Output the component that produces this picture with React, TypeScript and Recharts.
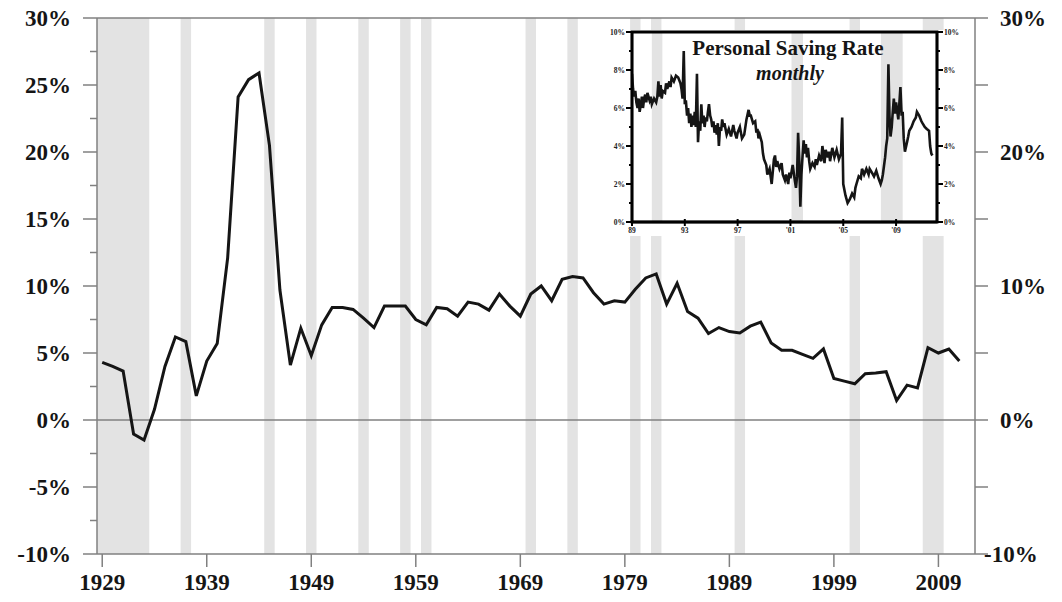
import React from "react";
import { LineChart, Line, XAxis, YAxis, ReferenceArea, ReferenceLine } from "recharts";

// annual personal saving rate, % of disposable income
const years = [
  1929, 1930, 1931, 1932, 1933, 1934, 1935, 1936, 1937, 1938, 1939, 1940, 1941, 1942, 1943, 1944, 1945, 1946, 1947, 1948,
  1949, 1950, 1951, 1952, 1953, 1954, 1955, 1956, 1957, 1958, 1959, 1960, 1961, 1962, 1963, 1964, 1965, 1966, 1967, 1968,
  1969, 1970, 1971, 1972, 1973, 1974, 1975, 1976, 1977, 1978, 1979, 1980, 1981, 1982, 1983, 1984, 1985, 1986, 1987, 1988,
  1989, 1990, 1991, 1992, 1993, 1994, 1995, 1996, 1997, 1998, 1999, 2000, 2001, 2002, 2003, 2004, 2005, 2006, 2007, 2008,
  2009, 2010, 2011,
];
const rates = [
  4.3, 4.0, 3.65, -1.05, -1.5, 0.8, 4.0, 6.2, 5.85, 1.8, 4.4, 5.7, 12.1, 24.1, 25.4, 25.9, 20.5, 9.7, 4.1, 6.85,
  4.8, 7.1, 8.4, 8.4, 8.25, 7.6, 6.9, 8.5, 8.5, 8.5, 7.5, 7.1, 8.4, 8.3, 7.75, 8.8, 8.65, 8.2, 9.4, 8.5,
  7.75, 9.4, 10.0, 8.9, 10.5, 10.7, 10.6, 9.5, 8.65, 8.9, 8.8, 9.75, 10.6, 10.9, 8.65, 10.2, 8.1, 7.6, 6.45, 6.9,
  6.6, 6.5, 7.0, 7.3, 5.75, 5.2, 5.2, 4.9, 4.6, 5.3, 3.1, 2.9, 2.7, 3.45, 3.5, 3.6, 1.45, 2.6, 2.4, 5.4,
  5.0, 5.3, 4.4,
];

// recessions (first year, last year) shaded on the annual chart
const recessionStart = [1929, 1937, 1945, 1949, 1954, 1958, 1960, 1970, 1974, 1980, 1982, 1990, 2001, 2008];
const recessionEnd = [1933, 1937, 1945, 1949, 1954, 1958, 1960, 1970, 1974, 1980, 1982, 1990, 2001, 2009];

const yearTicks = [1929, 1939, 1949, 1959, 1969, 1979, 1989, 1999, 2009];
const leftTicks = [-10, -7.5, -5, -2.5, 0, 2.5, 5, 7.5, 10, 12.5, 15, 17.5, 20, 22.5, 25, 27.5, 30];
const rightTicks = [-10, -5, 0, 5, 10, 15, 20, 25, 30];

// inset: monthly rate, x as decimal year
const monthX = [
  1989.0, 1989.08, 1989.17, 1989.25, 1989.33, 1989.42, 1989.5, 1989.58, 1989.67, 1989.75, 1989.83, 1989.92,
  1990.0, 1990.08, 1990.17, 1990.25, 1990.33, 1990.42, 1990.5, 1990.67, 1990.83, 1990.92,
  1991.0, 1991.08, 1991.17, 1991.25, 1991.33, 1991.5, 1991.58, 1991.67, 1991.83, 1991.92,
  1992.0, 1992.17, 1992.33, 1992.5, 1992.67, 1992.75, 1992.83, 1992.92,
  1993.0, 1993.08, 1993.17, 1993.25, 1993.33, 1993.42, 1993.5, 1993.58, 1993.67, 1993.75, 1993.83, 1993.92,
  1994.0, 1994.08, 1994.17, 1994.25, 1994.33, 1994.42, 1994.5, 1994.58, 1994.67, 1994.75, 1994.83, 1994.92,
  1995.0, 1995.08, 1995.17, 1995.25, 1995.33, 1995.42, 1995.5, 1995.58, 1995.67, 1995.75, 1995.83, 1995.92,
  1996.0, 1996.17, 1996.33, 1996.5, 1996.67, 1996.75, 1996.92,
  1997.0, 1997.17, 1997.33, 1997.5, 1997.67, 1997.83, 1997.92,
  1998.0, 1998.17, 1998.33, 1998.42, 1998.5, 1998.58, 1998.67, 1998.83, 1998.92,
  1999.0, 1999.17, 1999.25, 1999.42, 1999.5, 1999.58, 1999.67, 1999.75, 1999.83, 1999.92,
  2000.0, 2000.17, 2000.33, 2000.42, 2000.58, 2000.67, 2000.83, 2000.92,
  2001.0, 2001.17, 2001.33, 2001.42, 2001.5, 2001.58, 2001.67, 2001.75, 2001.83, 2001.92,
  2002.0, 2002.08, 2002.17, 2002.25, 2002.33, 2002.42, 2002.5, 2002.67, 2002.83, 2002.92,
  2003.0, 2003.17, 2003.33, 2003.42, 2003.5, 2003.58, 2003.67, 2003.83, 2003.92,
  2004.0, 2004.17, 2004.33, 2004.5, 2004.67, 2004.83, 2004.92,
  2005.0, 2005.17, 2005.33, 2005.5, 2005.67, 2005.83, 2005.92,
  2006.0, 2006.17, 2006.33, 2006.42, 2006.58, 2006.75, 2006.92,
  2007.0, 2007.17, 2007.33, 2007.5, 2007.67, 2007.83, 2007.92,
  2008.0, 2008.17, 2008.25, 2008.33, 2008.42, 2008.5, 2008.58, 2008.67, 2008.75, 2008.83, 2008.92,
  2009.0, 2009.17, 2009.33, 2009.42, 2009.5, 2009.58, 2009.67, 2009.83, 2009.92,
  2010.0, 2010.17, 2010.33, 2010.5, 2010.58, 2010.75, 2010.92,
  2011.0, 2011.17, 2011.33, 2011.5, 2011.58, 2011.67, 2011.75,
];
const monthRate = [
  7.8, 7.0, 6.6, 6.9, 6.3, 6.0, 6.5, 5.8, 6.2, 6.6, 6.0, 6.5,
  6.7, 6.3, 6.8, 6.6, 6.4, 6.6, 6.2, 6.5, 6.3, 6.6,
  7.4, 6.6, 7.2, 6.5, 6.9, 6.8, 7.3, 7.0, 7.4, 7.1,
  7.6, 7.4, 7.7, 7.6, 7.3, 7.0, 6.5, 9.0,
  6.2, 6.4, 5.6, 6.0, 5.2, 5.7, 5.0, 5.6, 5.1, 5.8, 5.0, 7.8,
  4.2, 5.3, 4.8, 6.2, 5.2, 5.6, 5.0, 5.5, 5.3, 5.8, 6.2, 5.6,
  5.4, 5.0, 5.3, 4.7, 5.1, 4.6, 5.2, 4.0, 5.0, 4.8, 5.4, 5.0,
  5.2, 4.6, 4.9, 4.5, 5.1, 4.8, 4.4,
  4.7, 5.0, 4.4, 4.6, 5.4, 5.9, 5.6,
  5.6, 5.2, 5.3, 4.7, 4.9, 4.4, 4.6, 4.2, 3.6,
  3.3, 3.0, 2.5, 2.8, 2.4, 2.0, 2.7, 3.3, 3.5, 2.9,
  3.2, 2.8, 3.1, 2.5, 2.2, 2.5, 2.0, 2.6,
  2.3, 3.0, 2.2, 1.8, 2.4, 4.7, 3.2, 0.8, 2.5, 3.5,
  4.3, 3.6, 4.1, 3.4, 3.9, 3.2, 2.8, 3.1, 2.9, 3.3,
  3.0, 3.5, 3.2, 4.0, 3.6, 3.1, 3.8, 3.4, 3.7,
  3.2, 3.9, 3.4, 3.8, 3.3, 3.6, 5.5,
  2.0, 1.4, 1.0, 1.2, 1.5, 1.3, 1.8,
  2.0, 2.4, 2.3, 2.8, 2.5, 2.8, 2.5,
  2.8, 2.6, 2.4, 2.7, 2.3, 2.0, 2.2,
  2.5, 3.4, 4.0, 4.4, 8.3, 5.6, 4.5, 5.0, 5.8, 6.5, 5.7,
  6.3, 5.4, 7.1, 5.6, 5.8, 4.4, 3.7, 4.2, 4.5,
  4.8, 5.0, 5.3, 5.5, 5.8, 5.6, 5.3,
  5.2, 5.0, 4.9, 4.8, 4.0, 3.6, 3.5,
];
const insetRecStart = [1990.5, 2001.08, 2007.85];
const insetRecEnd = [1991.3, 2001.95, 2009.5];
const insetYearTicks = [1989, 1993, 1997, 2001, 2005, 2009];
const insetYearLabels = ["89", "93", "97", "'01", "'05", "'09"];
const insetPctTicks = [0, 1, 2, 3, 4, 5, 6, 7, 8, 9, 10];
const insetDomainX = [1989, 2012.1];

const FONT = "'Liberation Serif', 'Times New Roman', serif";
const AXIS = "#808080";
const INK = "#151515";
const BAND = "#e3e3e3";

const data = years.map((y, i) => ({ year: y, rate: rates[i] }));
const monthData = monthX.map((x, i) => ({ t: x, rate: monthRate[i] }));

function LeftTick({ x, y, payload }: any) {
  const v = payload.value;
  const major = v % 5 === 0;
  return (
    <g>
      <line x1={x - (major ? 14 : 7)} x2={x} y1={y} y2={y} stroke={AXIS} strokeWidth={1.5} />
      {major && (
        <text x={x - 26} y={y} dy={7.5} textAnchor="end" fontFamily={FONT} fontWeight="bold" fontSize={23} fill={INK}>
          {v}%
        </text>
      )}
    </g>
  );
}

function RightTick({ x, y, payload }: any) {
  const v = payload.value;
  const major = v % 10 === 0;
  return (
    <g>
      <line x1={x} x2={x + 13} y1={y} y2={y} stroke={AXIS} strokeWidth={1.5} />
      {major && (
        <text x={x + (v < 0 ? 9 : 25)} y={y} dy={7.5} textAnchor="start" fontFamily={FONT} fontWeight="bold" fontSize={23} fill={INK}>
          {v}%
        </text>
      )}
    </g>
  );
}

function YearTick({ x, y, payload }: any) {
  return (
    <g>
      <line x1={x} x2={x} y1={y} y2={y + 13} stroke={AXIS} strokeWidth={1.5} />
      <text x={x} y={y + 36} textAnchor="middle" fontFamily={FONT} fontWeight="bold" fontSize={23} fill={INK}>
        {payload.value}
      </text>
    </g>
  );
}

function InsetLeftTick({ x, y, payload }: any) {
  const v = payload.value;
  const major = v % 2 === 0;
  return (
    <g>
      <line x1={x - (major ? 6 : 3)} x2={x} y1={y} y2={y} stroke="#000" strokeWidth={2} />
      {major && (
        <text x={x - 7} y={y} dy={2.5} textAnchor="end" fontFamily={FONT} fontWeight="bold" fontSize={7.5} fill="#222">
          {v}%
        </text>
      )}
    </g>
  );
}

function InsetRightTick({ x, y, payload }: any) {
  const v = payload.value;
  const major = v % 2 === 0;
  return (
    <g>
      <line x1={x} x2={x + (major ? 6 : 3)} y1={y} y2={y} stroke="#000" strokeWidth={2} />
      {major && (
        <text x={x + 7} y={y} dy={2.5} textAnchor="start" fontFamily={FONT} fontWeight="bold" fontSize={7.5} fill="#222">
          {v}%
        </text>
      )}
    </g>
  );
}

function InsetYearTick({ x, y, payload, index }: any) {
  return (
    <g>
      <line x1={x} x2={x} y1={y - 3} y2={y + 4} stroke="#000" strokeWidth={2} />
      <text x={x} y={y + 11} textAnchor="middle" fontFamily={FONT} fontWeight="bold" fontSize={7.5} fill="#222">
        {insetYearLabels[index] ?? ""}
      </text>
    </g>
  );
}

export default function App() {
  return (
    <div style={{ position: "absolute", left: 0, top: 0, width: 1062, height: 602, background: "#fff" }}>
      <LineChart width={1062} height={602} data={data} margin={{ top: 18, right: 0, bottom: 0, left: 0 }}>
        <XAxis
          dataKey="year"
          type="number"
          domain={[1928.5, 2012.5]}
          allowDataOverflow
          ticks={yearTicks}
          height={48}
          tickSize={0}
          tickMargin={0}
          axisLine={{ stroke: AXIS, strokeWidth: 1.5 }}
          tick={(p: any) => <YearTick {...p} />}
        />
        <YAxis
          yAxisId="left"
          domain={[-10, 30]}
          allowDataOverflow
          ticks={leftTicks}
          width={97}
          tickSize={0}
          tickMargin={0}
          axisLine={{ stroke: AXIS, strokeWidth: 1.5 }}
          tick={(p: any) => <LeftTick {...p} />}
          interval={0}
        />
        <YAxis
          yAxisId="right"
          orientation="right"
          domain={[-10, 30]}
          allowDataOverflow
          ticks={rightTicks}
          width={87}
          tickSize={0}
          tickMargin={0}
          axisLine={{ stroke: AXIS, strokeWidth: 1.5 }}
          tick={(p: any) => <RightTick {...p} />}
          interval={0}
        />
        {recessionStart.map((s, i) => (
          <ReferenceArea
            key={s}
            yAxisId="left"
            x1={s - 0.5}
            x2={recessionEnd[i] + 0.5}
            y1={-10}
            y2={30}
            fill={BAND}
            fillOpacity={1}
            stroke="none"
          />
        ))}
        <ReferenceLine yAxisId="left" y={0} stroke={AXIS} strokeWidth={1.5} />
        <ReferenceLine yAxisId="right" y={30} stroke={AXIS} strokeWidth={1.5} />
        <Line
          yAxisId="left"
          type="linear"
          dataKey="rate"
          stroke={INK}
          strokeWidth={3}
          dot={false}
          isAnimationActive={false}
        />
      </LineChart>

      {/* white panel behind the inset */}
      <div style={{ position: "absolute", left: 598, top: 30, width: 374, height: 206, background: "#fff" }} />
      <div style={{ position: "absolute", left: 598, top: 22, width: 374, height: 214 }}>
        <LineChart width={374} height={214} data={monthData} margin={{ top: 10, right: 0, bottom: 0, left: 0 }}>
          <XAxis
            dataKey="t"
            type="number"
            domain={insetDomainX}
            allowDataOverflow
            ticks={insetYearTicks}
            height={14}
            tickSize={0}
            tickMargin={0}
            axisLine={{ stroke: "#000", strokeWidth: 2.5 }}
            tick={(p: any) => <InsetYearTick {...p} />}
            interval={0}
          />
          <YAxis
            yAxisId="l"
            domain={[0, 10]}
            allowDataOverflow
            ticks={insetPctTicks}
            width={34}
            tickSize={0}
            tickMargin={0}
            axisLine={{ stroke: "#000", strokeWidth: 2.5 }}
            tick={(p: any) => <InsetLeftTick {...p} />}
            interval={0}
          />
          <YAxis
            yAxisId="r"
            orientation="right"
            domain={[0, 10]}
            allowDataOverflow
            ticks={insetPctTicks}
            width={35}
            tickSize={0}
            tickMargin={0}
            axisLine={{ stroke: "#000", strokeWidth: 2.5 }}
            tick={(p: any) => <InsetRightTick {...p} />}
            interval={0}
          />
          {insetRecStart.map((s, i) => (
            <ReferenceArea
              key={s}
              yAxisId="l"
              x1={s}
              x2={insetRecEnd[i]}
              y1={0}
              y2={10}
              fill={BAND}
              fillOpacity={1}
              stroke="none"
            />
          ))}
          <ReferenceArea
            yAxisId="l"
            x1={insetDomainX[0]}
            x2={insetDomainX[1]}
            y1={0}
            y2={10}
            fill="none"
            stroke="#000"
            strokeWidth={2.8}
            ifOverflow="visible"
          />
          <Line
            yAxisId="l"
            type="linear"
            dataKey="rate"
            stroke={INK}
            strokeWidth={2.6}
            dot={false}
            isAnimationActive={false}
          />
        </LineChart>
      </div>

      <svg width={1062} height={602} style={{ position: "absolute", left: 0, top: 0, pointerEvents: "none" }}>
        <text x={788} y={55} textAnchor="middle" fontFamily={FONT} fontWeight="bold" fontSize={21} fill={INK}>
          Personal Saving Rate
        </text>
        <text x={790} y={80} textAnchor="middle" fontFamily={FONT} fontWeight="bold" fontStyle="italic" fontSize={20} fill={INK}>
          monthly
        </text>
      </svg>
    </div>
  );
}
